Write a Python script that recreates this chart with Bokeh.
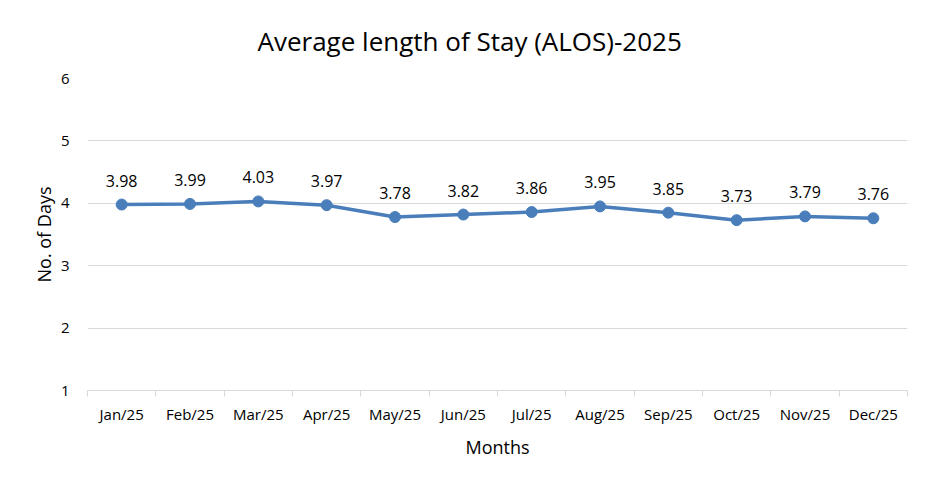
from bokeh.plotting import figure
from bokeh.models import (ColumnDataSource, FixedTicker, LabelSet, Range1d, Title)
from bokeh.core.properties import value
from bokeh.embed import file_html
from bokeh.resources import INLINE

months = ["Jan/25", "Feb/25", "Mar/25", "Apr/25", "May/25", "Jun/25",
          "Jul/25", "Aug/25", "Sep/25", "Oct/25", "Nov/25", "Dec/25"]
alos = [3.98, 3.99, 4.03, 3.97, 3.78, 3.82, 3.86, 3.95, 3.85, 3.73, 3.79, 3.76]
y_ticks = [1, 2, 3, 4, 5, 6]

FONT = "Open Sans"
LINE = "#4a7ebb"
GRID = "#d9d9d9"

xs = [i + 0.5 for i in range(len(months))]
src = ColumnDataSource(dict(x=xs, y=alos, lbl=[f"{v:.2f}" for v in alos]))

p = figure(width=921, height=475, output_backend="svg", toolbar_location=None,
           x_range=Range1d(0, len(months)), y_range=Range1d(1, 6),
           min_border_left=87, min_border_right=14, min_border_top=78,
           min_border_bottom=85, outline_line_color=None)

p.title = Title(text="Average length of Stay (ALOS)-2025", align="left", offset=170,
                text_font=FONT, text_font_size="26px", text_font_style="normal",
                text_color="#000000", standoff=40)

p.line("x", "y", source=src, line_color=LINE, line_width=3.5)
p.scatter("x", "y", source=src, size=11, fill_color=LINE, line_color=LINE)
p.add_layout(LabelSet(x="x", y="y", text="lbl", source=src, y_offset=24,
                      text_align="center", text_baseline="middle",
                      text_font=value(FONT), text_font_size="16px",
                      text_color="#000000"))

xt = FixedTicker(ticks=xs, minor_ticks=list(range(len(months) + 1)))
p.xaxis.ticker = xt
p.xaxis.major_label_overrides = {x: m for x, m in zip(xs, months)}
p.xaxis.major_tick_out = 0
p.xaxis.major_tick_in = 0
p.xaxis.minor_tick_out = 6
p.xaxis.minor_tick_in = 0
p.xaxis.minor_tick_line_color = GRID
p.xaxis.axis_line_color = GRID
p.xaxis.major_label_standoff = 7
p.xaxis.axis_label = "Months"
p.xaxis.axis_label_standoff = 8

p.yaxis.ticker = FixedTicker(ticks=y_ticks)
p.yaxis.axis_line_color = None
p.yaxis.major_tick_line_color = None
p.yaxis.minor_tick_line_color = None
p.yaxis.major_label_standoff = 12
p.yaxis.axis_label = "No. of Days"
p.yaxis.axis_label_standoff = 2

for ax in (p.xaxis, p.yaxis):
    ax.major_label_text_font = FONT
    ax.major_label_text_font_size = "15px"
    ax.major_label_text_color = "#000000"
    ax.axis_label_text_font = FONT
    ax.axis_label_text_font_size = "18px"
    ax.axis_label_text_font_style = "normal"
    ax.axis_label_text_color = "#000000"

p.xgrid.grid_line_color = None
p.ygrid.grid_line_color = GRID
p.ygrid.grid_line_width = 1

open("out.html", "w").write(file_html(p, INLINE))
